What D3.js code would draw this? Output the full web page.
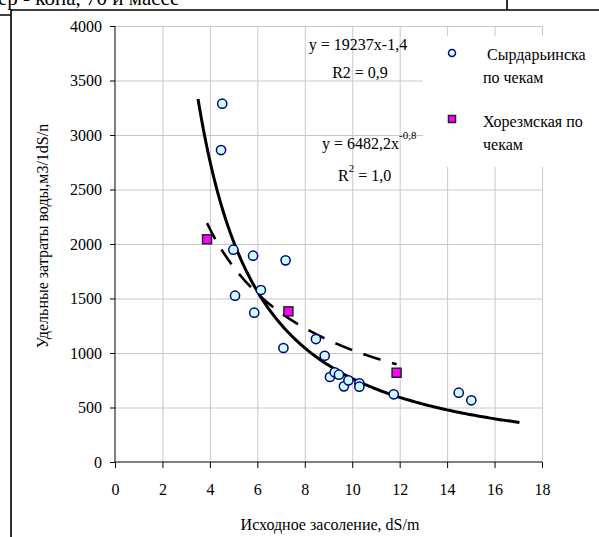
<!DOCTYPE html>
<html>
<head>
<meta charset="utf-8">
<script src="https://cdn.jsdelivr.net/npm/d3@7"></script>
<style>
  body { margin: 0; background: #fff; }
  svg text { font-family: "Liberation Serif", "Times New Roman", serif; fill: #000; }
</style>
</head>
<body>
<div id="chart"></div>
<script>
// Сырдарьинская область по чекам
var syrX = [4.52, 4.47, 4.99, 5.06, 5.82, 5.87, 6.15, 7.19, 7.10, 8.47, 8.84, 9.06, 9.26, 9.44, 9.65, 9.84, 10.30, 10.30, 11.75, 14.49, 15.02];
var syrY = [3287, 2862, 1948, 1526, 1893, 1370, 1578, 1850, 1046, 1128, 975, 780, 823, 801, 694, 749, 722, 691, 621, 636, 566];
// Хорезмская по чекам
var khoX = [3.88, 7.31, 11.87];
var khoY = [2043, 1382, 819];

// trend lines as printed on the chart (power fits)
var syrFit = {a: 19237, b: -1.4, from: 3.5, to: 17.05};
var khoFit = {a: 6482.2, b: -0.8, from: 3.88, to: 11.87};

var xTicks = [0, 2, 4, 6, 8, 10, 12, 14, 16, 18];
var yTicks = [0, 500, 1000, 1500, 2000, 2500, 3000, 3500, 4000];

var width = 599, height = 537;

var svg = d3.select("#chart").append("svg")
    .attr("width", width)
    .attr("height", height);

var x = d3.scaleLinear().domain([0, 18]).range([115, 542]);
var y = d3.scaleLinear().domain([0, 4000]).range([462, 26]);

// page text cut off at the top + frame
svg.append("text")
    .attr("x", -2).attr("y", 5)
    .style("font-size", "21px")
    .text("ер - копа, 70 и массе");
svg.append("path")
    .attr("d", "M11,537V10H599 M0,15H11 M507,0V10")
    .attr("fill", "none").attr("stroke", "#000").attr("stroke-width", 1.6);

// grid
var grid = svg.append("g").attr("stroke", "#c8c8c8").attr("stroke-width", 1);
grid.selectAll("line.h").data(yTicks.slice(1)).enter().append("line")
    .attr("x1", x(0)).attr("x2", x(18))
    .attr("y1", function(d) { return y(d) + 0.5; })
    .attr("y2", function(d) { return y(d) + 0.5; });
grid.selectAll("line.v").data(xTicks.slice(1)).enter().append("line")
    .attr("y1", y(0)).attr("y2", y(4000))
    .attr("x1", function(d) { return x(d) + 0.5; })
    .attr("x2", function(d) { return x(d) + 0.5; });

// axes
var xAxis = d3.axisBottom(x).tickValues(xTicks).tickFormat(d3.format("d")).tickSize(6).tickPadding(16);
var yAxis = d3.axisLeft(y).tickValues(yTicks).tickFormat(d3.format("d")).tickSize(5).tickPadding(8);

var gx = svg.append("g").attr("transform", "translate(0," + y(0) + ")").call(xAxis);
var gy = svg.append("g").attr("transform", "translate(" + x(0) + ",0)").call(yAxis);
[gx, gy].forEach(function(g) {
  g.attr("font-family", '"Liberation Serif", serif').attr("font-size", 16);
  g.select(".domain").attr("stroke", "#000");
  g.selectAll(".tick line").attr("stroke", "#000");
  g.selectAll("text").attr("fill", "#000");
});
gy.select(".domain").attr("d", "M0," + y(4000) + "V" + y(0));
gx.select(".domain").attr("d", "M" + x(0) + ",0H" + x(18));

// axis titles
svg.append("text")
    .attr("x", 330).attr("y", 530)
    .attr("text-anchor", "middle")
    .style("font-size", "16px")
    .text("Исходное засоление, dS/m");
svg.append("text")
    .attr("transform", "translate(48,236) rotate(-90)")
    .attr("text-anchor", "middle")
    .style("font-size", "16px")
    .text("Удельные затраты воды,м3/1dS/n");

// trend lines
function fitPoints(f) {
  return d3.range(0, 201).map(function(i) {
    var xv = f.from + (f.to - f.from) * i / 200;
    return [xv, f.a * Math.pow(xv, f.b)];
  });
}
var line = d3.line()
    .x(function(d) { return x(d[0]); })
    .y(function(d) { return y(d[1]); });

svg.append("path")
    .datum(fitPoints(syrFit))
    .attr("d", line)
    .attr("fill", "none")
    .attr("stroke", "#000")
    .attr("stroke-width", 3);

svg.append("path")
    .datum(fitPoints(khoFit))
    .attr("d", line)
    .attr("fill", "none")
    .attr("stroke", "#000")
    .attr("stroke-width", 2.6)
    .attr("stroke-dasharray", "18,12");

// points
svg.append("g").selectAll("circle")
    .data(syrX.map(function(d, i) { return [d, syrY[i]]; }))
  .enter().append("circle")
    .attr("cx", function(d) { return x(d[0]); })
    .attr("cy", function(d) { return y(d[1]); })
    .attr("r", 4.6)
    .attr("fill", "#ccffff")
    .attr("stroke", "#000080")
    .attr("stroke-width", 1.5);

svg.append("g").selectAll("rect")
    .data(khoX.map(function(d, i) { return [d, khoY[i]]; }))
  .enter().append("rect")
    .attr("x", function(d) { return x(d[0]) - 4.5; })
    .attr("y", function(d) { return y(d[1]) - 4.5; })
    .attr("width", 9).attr("height", 9)
    .attr("fill", "#ff00ff")
    .attr("stroke", "#222")
    .attr("stroke-width", 1.5);

// equations
var eq = svg.append("g").style("font-size", "16px");
eq.append("text").attr("x", 358).attr("y", 50).attr("text-anchor", "middle").text("y = 19237x-1,4");
eq.append("text").attr("x", 360).attr("y", 78).attr("text-anchor", "middle").text("R2 = 0,9");
var eq2 = eq.append("text").attr("x", 322).attr("y", 149);
eq2.append("tspan").text("y = 6482,2x");
eq2.append("tspan").attr("dy", -10).style("font-size", "11px").text("-0,8");
var r2 = eq.append("text").attr("x", 338).attr("y", 181);
r2.append("tspan").text("R");
r2.append("tspan").attr("dy", -9).style("font-size", "11px").text("2");
r2.append("tspan").attr("dy", 9).text(" = 1,0");

// legend
var lg = svg.append("g");
lg.append("rect").attr("x", 423).attr("y", 36).attr("width", 176).attr("height", 131).attr("fill", "#fff");
lg.append("circle").attr("cx", 452).attr("cy", 53).attr("r", 3.5)
    .attr("fill", "#ccffff").attr("stroke", "#000080").attr("stroke-width", 1.5);
lg.append("rect").attr("x", 448.5).attr("y", 115.5).attr("width", 7).attr("height", 7)
    .attr("fill", "#ff00ff").attr("stroke", "#222").attr("stroke-width", 1.5);
var lt = lg.append("g").style("font-size", "16px");
lt.append("text").attr("x", 487).attr("y", 60).text("Сырдарьинска");
lt.append("text").attr("x", 483).attr("y", 83).text("по чекам");
lt.append("text").attr("x", 483).attr("y", 127).text("Хорезмская по");
lt.append("text").attr("x", 483).attr("y", 150).text("чекам");
</script>
</body>
</html>
